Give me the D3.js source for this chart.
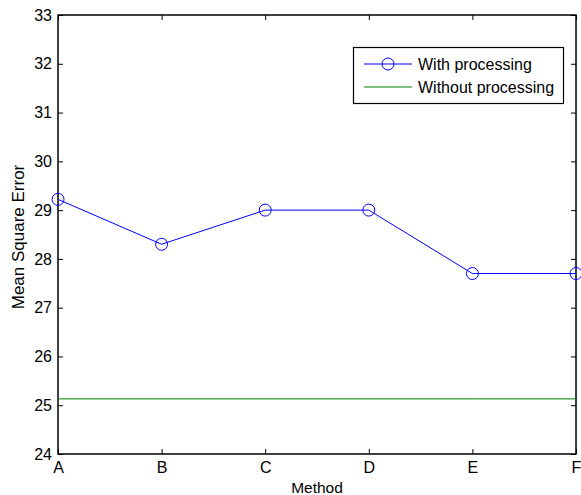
<!DOCTYPE html>
<html>
<head>
<meta charset="utf-8">
<script src="https://cdn.jsdelivr.net/npm/d3@7"></script>
<style>
	body { margin: 0; background: #fff; }
	text { font-family: "Liberation Sans", Arial, sans-serif; fill: #000; }
</style>
</head>
<body>
<svg id="chart" width="581" height="495"></svg>
<script>
var methods = ["A", "B", "C", "D", "E", "F"];
var withProcessing = [29.22, 28.3, 29.0, 29.0, 27.7, 27.7];
var withoutProcessing = [25.13, 25.13, 25.13, 25.13, 25.13, 25.13];
var yTicks = [24, 25, 26, 27, 28, 29, 30, 31, 32, 33];

var svg = d3.select("#chart");
var plotLeft = 58, plotRight = 576, plotTop = 15, plotBottom = 454;

var x = d3.scalePoint().domain(methods).range([plotLeft, plotRight]);
var y = d3.scaleLinear().domain([24, 33]).range([plotBottom, plotTop]);

/* axes with inward ticks on all four sides */
svg.append("g")
	.attr("transform", "translate(0," + plotBottom + ")")
	.call(d3.axisBottom(x).tickSizeInner(-5).tickSizeOuter(0).tickPadding(8));
svg.append("g")
	.attr("transform", "translate(0," + plotTop + ")")
	.call(d3.axisTop(x).tickSizeInner(-5).tickSizeOuter(0).tickFormat(""));
svg.append("g")
	.attr("transform", "translate(" + plotLeft + ",0)")
	.call(d3.axisLeft(y).tickValues(yTicks).tickSizeInner(-5).tickSizeOuter(0).tickPadding(6));
svg.append("g")
	.attr("transform", "translate(" + plotRight + ",0)")
	.call(d3.axisRight(y).tickValues(yTicks).tickSizeInner(-5).tickSizeOuter(0).tickFormat(""));

svg.selectAll(".domain").remove();
svg.selectAll(".tick line").attr("stroke", "#000");
svg.selectAll(".tick text").attr("font-size", 16).style("font-family", "Liberation Sans, Arial, sans-serif");

svg.append("rect")
	.attr("x", plotLeft).attr("y", plotTop)
	.attr("width", plotRight - plotLeft).attr("height", plotBottom - plotTop)
	.attr("fill", "none").attr("stroke", "#000").attr("stroke-width", 1.5);

var line = d3.line()
	.x(function(d, i) { return x(methods[i]); })
	.y(function(d) { return y(d); });

svg.append("path")
	.datum(withoutProcessing)
	.attr("d", line)
	.attr("fill", "none")
	.attr("stroke", "#008000")
	.attr("stroke-width", 1);

svg.append("path")
	.datum(withProcessing)
	.attr("d", line)
	.attr("fill", "none")
	.attr("stroke", "#0000ff")
	.attr("stroke-width", 1);

svg.selectAll(".marker")
	.data(withProcessing)
	.enter()
	.append("circle")
	.attr("class", "marker")
	.attr("cx", function(d, i) { return x(methods[i]); })
	.attr("cy", function(d) { return y(d); })
	.attr("r", 6)
	.attr("fill", "none")
	.attr("stroke", "#0000ff")
	.attr("stroke-width", 1);

/* legend */
var legend = svg.append("g");
legend.append("rect")
	.attr("x", 353.5).attr("y", 47.5)
	.attr("width", 210).attr("height", 56)
	.attr("fill", "#fff").attr("stroke", "#000").attr("stroke-width", 1.2);

legend.append("line")
	.attr("x1", 364).attr("x2", 412).attr("y1", 64).attr("y2", 64)
	.attr("stroke", "#0000ff");
legend.append("circle")
	.attr("cx", 388).attr("cy", 64).attr("r", 6)
	.attr("fill", "none").attr("stroke", "#0000ff");
legend.append("text")
	.attr("x", 418).attr("y", 69.5).attr("font-size", 16)
	.text("With processing");

legend.append("line")
	.attr("x1", 364).attr("x2", 412).attr("y1", 87).attr("y2", 87)
	.attr("stroke", "#008000");
legend.append("text")
	.attr("x", 418).attr("y", 92.5).attr("font-size", 16)
	.text("Without processing");

/* axis titles */
svg.append("text")
	.attr("x", 317).attr("y", 493)
	.attr("text-anchor", "middle").attr("font-size", 15.5)
	.text("Method");
svg.append("text")
	.attr("transform", "translate(24,237) rotate(-90)")
	.attr("text-anchor", "middle").attr("font-size", 17)
	.text("Mean Square Error");
</script>
</body>
</html>
